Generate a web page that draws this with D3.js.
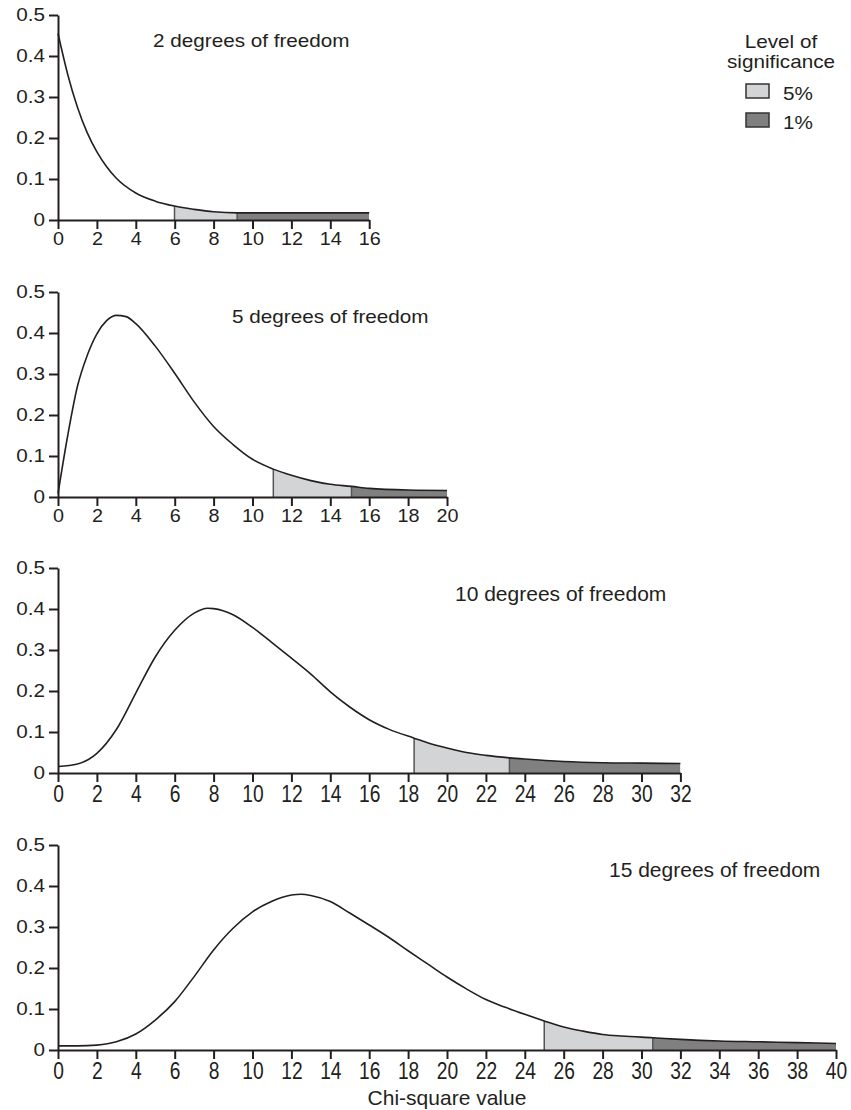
<!DOCTYPE html>
<html>
<head>
<meta charset="utf-8">
<script src="https://cdnjs.cloudflare.com/ajax/libs/d3/7.8.5/d3.min.js"></script>
<style>
  body { margin: 0; background: #fff; }
  svg text { font-family: "Liberation Sans", Arial, sans-serif; fill: #231f20; }
  .axis path, .axis line { stroke: #231f20; stroke-width: 2px; }
</style>
</head>
<body>
<div id="chart"></div>
<script>
// chart data
const titles = ["2 degrees of freedom", "5 degrees of freedom", "10 degrees of freedom", "15 degrees of freedom"];
const xMax = [16, 20, 32, 40];
const crit5 = [5.99, 11.07, 18.31, 25.0];
const crit1 = [9.21, 15.09, 23.21, 30.58];
const yTicks = [0, 0.1, 0.2, 0.3, 0.4, 0.5];
const yTickLabels = ["0", "0.1", "0.2", "0.3", "0.4", "0.5"];
const legendLabels = ["5%", "1%"];

const df2X = [0, 0.5, 1, 1.5, 2, 2.5, 3, 4, 5, 5.99, 7, 8, 9.21, 10, 12, 14, 16];
const df2Y = [0.455, 0.355, 0.275, 0.213, 0.166, 0.13, 0.102, 0.066, 0.046, 0.034, 0.026, 0.02, 0.0175, 0.0175, 0.0175, 0.0175, 0.0175];

const df5X = [0, 0.5, 1, 1.5, 2, 2.5, 3, 3.5, 4, 5, 6, 7, 8, 9, 10, 11.07, 12, 13, 14, 15.09, 16, 18, 20];
const df5Y = [0.008, 0.15, 0.27, 0.345, 0.398, 0.43, 0.443, 0.44, 0.423, 0.368, 0.302, 0.232, 0.172, 0.128, 0.092, 0.068, 0.053, 0.04, 0.031, 0.026, 0.021, 0.017, 0.016];

const df10X = [0, 1, 2, 3, 4, 5, 6, 7, 7.7, 8, 9, 10, 11, 12, 13, 14, 15, 16, 17, 18.31, 19, 20, 21, 22, 23.21, 24, 26, 28, 30, 32];
const df10Y = [0.016, 0.022, 0.048, 0.106, 0.195, 0.283, 0.348, 0.39, 0.402, 0.401, 0.386, 0.355, 0.318, 0.28, 0.241, 0.198, 0.161, 0.13, 0.107, 0.085, 0.074, 0.061, 0.05, 0.043, 0.037, 0.034, 0.028, 0.025, 0.024, 0.023];

const df15X = [0, 1, 2, 3, 4, 5, 6, 7, 8, 9, 10, 11, 12, 12.5, 13, 14, 15, 16, 17, 18, 19, 20, 21, 22, 23, 24, 25, 26, 27, 28, 29, 30.58, 32, 34, 36, 38, 40];
const df15Y = [0.01, 0.01, 0.012, 0.02, 0.039, 0.073, 0.118, 0.179, 0.244, 0.297, 0.337, 0.363, 0.378, 0.38, 0.377, 0.362, 0.334, 0.305, 0.275, 0.242, 0.21, 0.178, 0.149, 0.123, 0.104, 0.087, 0.071, 0.056, 0.046, 0.038, 0.034, 0.03, 0.026, 0.022, 0.02, 0.018, 0.016];

const curveX = [df2X, df5X, df10X, df15X];
const curveY = [df2Y, df5Y, df10Y, df15Y];

// layout
const width = 851, height = 1110;
const left = 58, unit = 19.45, plotH = 205;
const baselines = [220, 497, 773, 1050];
const titlePos = [[153, 47], [232, 323], [455, 601], [609, 877]];
const lightFill = "#d3d4d5", darkFill = "#808080";

const svg = d3.select("#chart").append("svg")
  .attr("width", width).attr("height", height);
const defs = svg.append("defs");

titles.forEach((title, i) => {
  const base = baselines[i];
  const x = d3.scaleLinear().domain([0, xMax[i]]).range([left, left + unit * xMax[i]]);
  const y = d3.scaleLinear().domain([0, 0.5]).range([base, base - plotH]);
  const pts = curveX[i].map((v, k) => [v, curveY[i][k]]);
  const big = i >= 2;

  const g = svg.append("g");

  const area = d3.area().x(d => x(d[0])).y0(y(0)).y1(d => y(d[1])).curve(d3.curveMonotoneX);
  const line = d3.line().x(d => x(d[0])).y(d => y(d[1])).curve(d3.curveMonotoneX);

  // shaded tails, clipped to the critical-value bands
  [[crit5[i], crit1[i], lightFill], [crit1[i], xMax[i], darkFill]].forEach(([a, b, fill], j) => {
    const id = `clip${i}_${j}`;
    defs.append("clipPath").attr("id", id).append("rect")
      .attr("x", x(a)).attr("y", base - plotH).attr("width", x(b) - x(a)).attr("height", plotH);
    g.append("path").datum(pts).attr("d", area)
      .attr("fill", fill).attr("clip-path", `url(#${id})`);
  });

  // edges at the critical values
  [crit5[i], crit1[i]].forEach(c => {
    const k = curveX[i].indexOf(c);
    g.append("line")
      .attr("x1", x(c)).attr("x2", x(c))
      .attr("y1", y(0)).attr("y2", y(curveY[i][k]))
      .attr("stroke", "#555").attr("stroke-width", 1.5);
  });

  g.append("path").datum(pts).attr("d", line)
    .attr("fill", "none").attr("stroke", "#231f20").attr("stroke-width", 1.6);

  // axes
  const xa = g.append("g").attr("class", "axis").attr("transform", `translate(0,${base})`)
    .call(d3.axisBottom(x).tickValues(d3.range(0, xMax[i] + 1, 2)).tickSize(9).tickSizeOuter(0).tickPadding(3));
  xa.selectAll("text").attr("font-size", big ? 24 : 18)
    .attr("transform", big ? "scale(0.8,1)" : "scale(1.1,1)");

  const ya = g.append("g").attr("class", "axis").attr("transform", `translate(${left},0)`)
    .call(d3.axisLeft(y).tickValues(yTicks).tickFormat((d, k) => yTickLabels[k]).tickSize(9).tickSizeOuter(0));
  ya.selectAll("text").attr("font-size", 18).attr("x", -13 / 1.15).attr("transform", "scale(1.15,1)");
  svg.selectAll(".axis text").attr("fill", "#231f20");

  // panel title
  g.append("text")
    .attr("transform", `translate(${titlePos[i][0]},${titlePos[i][1]})` + (big ? "" : " scale(1.15,1)"))
    .attr("font-size", big ? 21 : 18)
    .text(title);
});

// x axis title
svg.append("text")
  .attr("x", left + unit * 20).attr("y", 1105)
  .attr("text-anchor", "middle").attr("font-size", 21)
  .text("Chi-square value");

// legend
const legend = svg.append("g").attr("transform", "translate(781,0)");
legend.append("text").attr("text-anchor", "middle")
  .attr("transform", "translate(0,48) scale(1.15,1)").attr("font-size", 18).text("Level of");
legend.append("text").attr("text-anchor", "middle")
  .attr("transform", "translate(0,68) scale(1.15,1)").attr("font-size", 18).text("significance");
[lightFill, darkFill].forEach((fill, k) => {
  const yy = 84 + k * 29;
  legend.append("rect").attr("x", -35).attr("y", yy).attr("width", 23).attr("height", 14)
    .attr("fill", fill).attr("stroke", "#333").attr("stroke-width", 1.5);
  legend.append("text").attr("transform", `translate(2,${yy + 16}) scale(1.15,1)`)
    .attr("font-size", 18).text(legendLabels[k]);
});
</script>
</body>
</html>
